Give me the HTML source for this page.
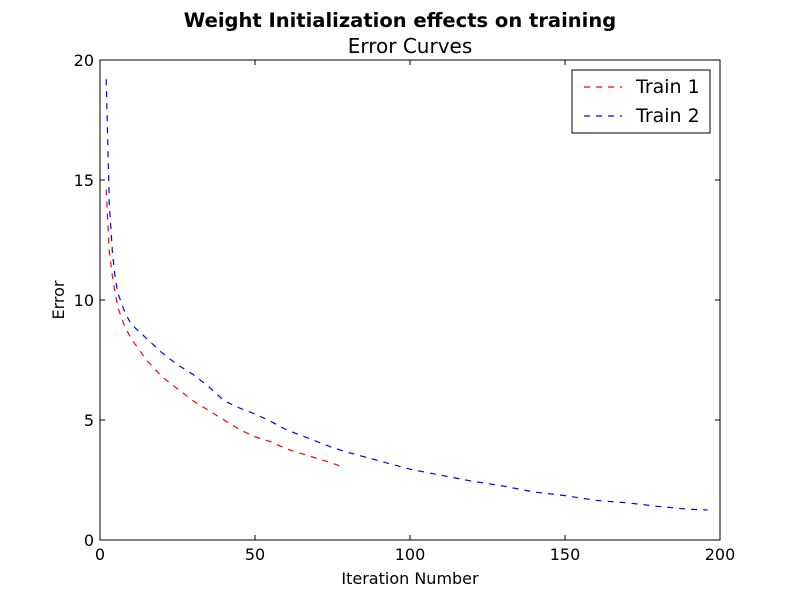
<!DOCTYPE html>
<html><head><meta charset="utf-8"><style>
body{margin:0;background:#fff}
svg{display:block;font-family:"DejaVu Sans","Liberation Sans",sans-serif}
</style></head><body>
<svg id="chart" width="800" height="600">
<rect width="800" height="600" fill="#fff"/>
<text x="400" y="27" text-anchor="middle" font-size="19.5" font-weight="bold">Weight Initialization effects on training</text>
<text x="410" y="53" text-anchor="middle" font-size="20">Error Curves</text>
<g id="plot"></g>
<text x="410" y="584" text-anchor="middle" font-size="16">Iteration Number</text>
<text transform="translate(64,300) rotate(-90)" text-anchor="middle" font-size="16">Error</text>
</svg>
<script>
const xTicks=[0,50,100,150,200];
const yTicks=[0,5,10,15,20];
const train1X=[2,3,4,5,6,8,10,15,20,25,30,35,40,45,50,55,60,65,70,75,78];
const train1Y=[14.6,12,11,10.2,9.6,8.9,8.4,7.5,6.8,6.3,5.8,5.4,5.0,4.6,4.3,4.1,3.8,3.6,3.4,3.2,3.05];
const train2X=[2,3,4,5,6,8,10,15,20,25,30,35,40,45,50,55,60,65,70,75,80,90,100,110,120,130,140,150,160,170,180,190,196];
const train2Y=[19.2,14,12,10.8,10.2,9.5,9.0,8.4,7.8,7.3,6.9,6.4,5.8,5.5,5.25,4.95,4.6,4.35,4.1,3.85,3.65,3.3,2.95,2.7,2.45,2.25,2.0,1.85,1.65,1.55,1.4,1.28,1.25];
const L=100,R=720,T=60,B=540;
const sx=v=>L+(v-0)/200*(R-L);
const sy=v=>B-(v-0)/20*(B-T);
const NS='http://www.w3.org/2000/svg';
const g=document.getElementById('plot');
function mk(t,a){const e=document.createElementNS(NS,t);for(const k in a)e.setAttribute(k,a[k]);g.appendChild(e);return e;}
function line(xs,ys,color,name){
  const p=mk('polyline',{points:xs.map((x,i)=>sx(x)+','+sy(ys[i])).join(' '),fill:'none',stroke:color,'stroke-width':1.2,'stroke-dasharray':'6,6'});
  
  
}
line(train1X,train1Y,'#f00','train-1-line');
line(train2X,train2Y,'#00f','train-2-line');
const frame=mk('rect',{x:L,y:T,width:R-L,height:B-T,fill:'none',stroke:'#000','stroke-width':1});


xTicks.forEach(v=>{
  const x=sx(v);
  mk('line',{x1:x,x2:x,y1:B,y2:B-5,stroke:'#000'});
  mk('line',{x1:x,x2:x,y1:T,y2:T+5,stroke:'#000'});
  const t=mk('text',{x:x,y:B+20,'text-anchor':'middle','font-size':16});t.textContent=v;
  
  
});
yTicks.forEach(v=>{
  const y=sy(v);
  mk('line',{x1:L,x2:L+5,y1:y,y2:y,stroke:'#000'});
  mk('line',{x1:R,x2:R-5,y1:y,y2:y,stroke:'#000'});
  const t=mk('text',{x:L-6,y:y+6,'text-anchor':'end','font-size':16});t.textContent=v;
  
  
});
const lg=mk('rect',{x:572,y:70,width:138,height:63,fill:'#fff',stroke:'#000'});


[['Train 1','#f00',87],['Train 2','#00f',116]].forEach(([n,c,y])=>{
  mk('line',{x1:584,x2:622,y1:y,y2:y,stroke:c,'stroke-width':1.2,'stroke-dasharray':'6,6'});
  const t=mk('text',{x:636,y:y+6,'font-size':19});t.textContent=n;
  
  
});
</script>
</body></html>
